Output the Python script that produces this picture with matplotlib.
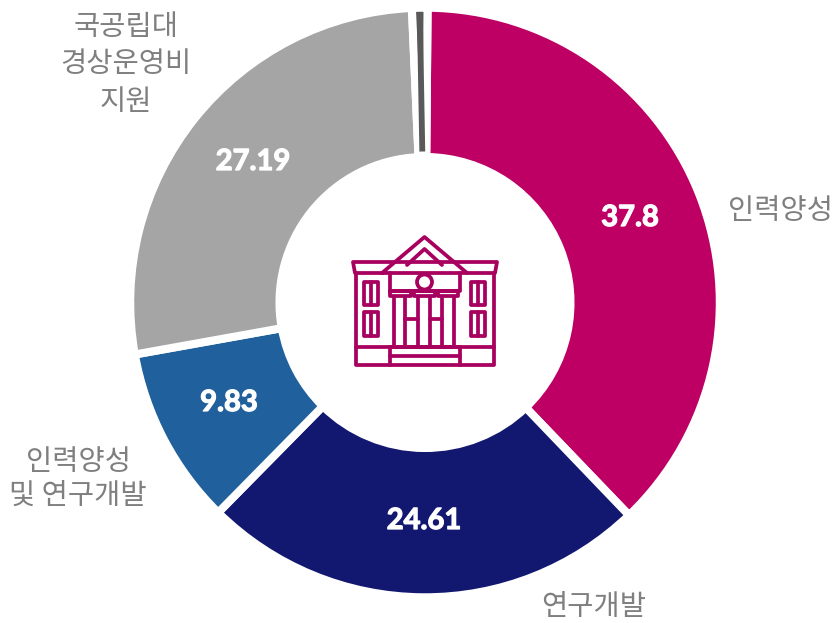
import numpy as np
import matplotlib
matplotlib.use('Agg')
import matplotlib.pyplot as plt
import matplotlib.patheffects as pe
from matplotlib.patches import Circle, Rectangle

plt.rcParams['font.family'] = ['Noto Sans CJK KR', 'DejaVu Sans']

W, H = 835, 623
values = [37.8, 24.61, 9.83, 27.19, 0.85]
value_labels = ['37.8', '24.61', '9.83', '27.19']
categories = ['인력양성', '연구개발', '인력양성\n및 연구개발', '국공립대\n경상운영비\n지원']
colors = ['#BE0064', '#121870', '#20609C', '#A5A5A5', '#595959']

fig = plt.figure(figsize=(W/100, H/100), dpi=100)
ax = fig.add_axes([0, 0, 1, 1])
ax.set_xlim(0, W)
ax.set_ylim(H, 0)
ax.axis('off')
pa = fig.add_axes([0, 0, 1, 1])
pa.set_zorder(0)
ax.set_zorder(1)
ax.patch.set_alpha(0)

cx, cy, R, r = 425, 302.5, 294.8, 145.5
wedges, _ = pa.pie(values, colors=colors, startangle=89.5, counterclock=False,
                   center=(cx, H-cy), radius=R, frame=True,
                   wedgeprops=dict(width=R-r, edgecolor='white', linewidth=5.8))
pa.set_xlim(0, W); pa.set_ylim(0, H); pa.axis('off')

# keep the thin slice visible all the way to the hole
mid = np.deg2rad((wedges[-1].theta1 + wedges[-1].theta2) / 2)
pa.plot([cx + 151*np.cos(mid), cx + 289*np.cos(mid)],
        [H-cy + 151*np.sin(mid), H-cy + 289*np.sin(mid)],
        color=colors[-1], lw=4.2, solid_capstyle='butt', zorder=5)

for t, (x, y) in zip(value_labels, [(630, 218), (424, 521), (229, 403), (253, 162)]):
    ax.text(x, y, t, color='white', fontsize=21, fontweight='bold', family='Lato',
            ha='center', va='center',
            path_effects=[pe.withStroke(linewidth=0.9, foreground='white')])
for t, (x, y), sp in zip(categories, [(781, 211), (593.5, 607), (78, 479), (126, 64.5)], [1.12, 1.12, 1.19, 1.31]):
    ax.text(x, y, t, color='#7F7F7F', fontsize=20.5, ha='center', va='center', linespacing=sp)

# building icon, in reference pixels
c = '#A8005F'
lw = 2.7
def L(xs, ys):
    ax.plot(xs, ys, color=c, lw=lw, solid_capstyle='round', solid_joinstyle='round')
def Rc(x0, y0, x1, y1):
    ax.add_patch(Rectangle((x0, y0), x1-x0, y1-y0, fill=False, ec=c, lw=lw, joinstyle='round'))

L([382, 355, 353, 497, 495, 467], [273, 273, 262, 262, 273, 273])
L([382, 424.5, 467, 382], [273, 237, 273, 273])
L([407, 424.5, 442], [265, 249, 265])
L([355.5, 355.5, 494, 494], [273, 365, 365, 273])
L([355.5, 494], [347, 347])
L([390, 460], [347, 347])
L([390, 390], [347, 365]); L([460, 460], [347, 365])
L([390, 460], [356, 356])
# entablature
L([390, 390, 460, 460], [273, 291, 291, 273])
ax.add_patch(Circle((424.5, 282), 7.5, fill=True, fc='white', ec=c, lw=lw, zorder=3))
# column capitals and shafts
for x0, x1 in [(390, 411), (414, 435), (438, 458)]:
    L([x0, x0, x1, x1, x0], [291, 296, 296, 291, 291])
for x0, x1 in [(393.5, 405), (418, 430), (442, 454)]:
    L([x0, x0], [297, 346]); L([x1, x1], [297, 346])
L([405, 418], [319, 319]); L([430, 442], [319, 319])
# windows
for x0, x1 in [(363.5, 378), (470.5, 485)]:
    for y0, y1 in [(282, 305), (312, 336)]:
        Rc(x0, y0, x1, y1)
        L([(x0+x1)/2]*2, [y0, y1])

fig.savefig('out.png', dpi=100, facecolor='white')
